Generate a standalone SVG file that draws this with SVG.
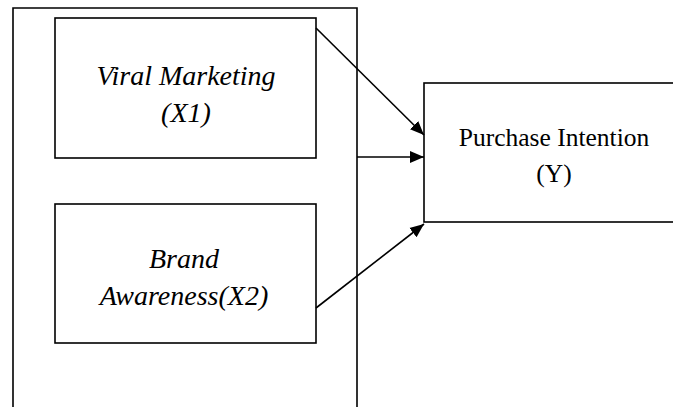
<svg xmlns="http://www.w3.org/2000/svg" width="673" height="407" viewBox="0 0 673 407">
<defs>
<style>
.box{fill:#fff;stroke:#000;stroke-width:1.6}
.frame{fill:none;stroke:#000;stroke-width:1.6}
.lbl{font-family:"Liberation Serif","Times New Roman",serif;fill:#000;text-anchor:middle}
.it{font-style:italic;font-size:28px}
.rg{font-size:25.5px}
.edge{stroke:#000;stroke-width:1.6;fill:none;marker-end:url(#ah)}
</style>
<marker id="ah" viewBox="0 0 10 10" refX="10" refY="5" markerWidth="14" markerHeight="14" markerUnits="userSpaceOnUse" orient="auto">
<path d="M0,0.8 L10,5 L0,9.2 z" fill="#000"/>
</marker>
</defs>
<g id="frame">
<path class="frame" d="M13,408 L13,8 L357,8 L357,408"/>
</g>
<g id="x1">
<rect class="box" x="55" y="18" width="261" height="140"/>
<text class="lbl it" x="186" y="85">Viral Marketing</text>
<text class="lbl it" x="186" y="122">(X1)</text>
</g>
<g id="x2">
<rect class="box" x="55" y="204" width="261" height="139"/>
<text class="lbl it" x="184" y="268">Brand</text>
<text class="lbl it" x="184" y="305">Awareness(X2)</text>
</g>
<g id="y">
<rect class="box" x="424" y="83" width="260" height="139"/>
<text class="lbl rg" x="554" y="146">Purchase Intention</text>
<text class="lbl rg" x="554" y="182">(Y)</text>
</g>
<g id="connectors">
<line class="edge" x1="316" y1="28" x2="424" y2="135"/>
<line class="edge" x1="357" y1="157" x2="424" y2="157"/>
<line class="edge" x1="316" y1="308" x2="424" y2="224"/>
</g>
</svg>
